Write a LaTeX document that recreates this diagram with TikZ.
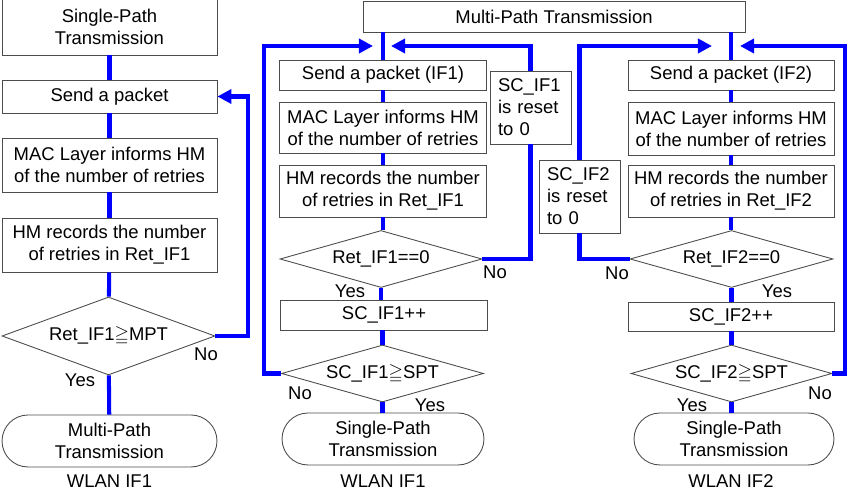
\documentclass[tikz,border=0pt]{standalone}
\usepackage{amssymb}
\usepackage{fontspec}
\setmainfont{Liberation Sans}
\usetikzlibrary{shapes.geometric,arrows.meta}

\begin{document}
\begin{tikzpicture}[x=0.02cm,y=-0.02cm,
    font=\fontsize{10.5}{12.5}\selectfont,
    box/.style={draw=black!70,line width=0.5pt,minimum width=4.14cm,inner sep=1pt,align=center},
    resetbox/.style={draw=black!70,line width=0.5pt,text width=1.3cm,inner xsep=0.16cm,minimum height=1.46cm,align=left},
    cond/.style={draw=black!70,line width=0.5pt,diamond,aspect=3.54,inner sep=0pt,minimum width=4.04cm,minimum height=1.14cm},
    term/.style={draw=black!70,line width=0.5pt,rounded corners=0.52cm,minimum width=4.04cm,minimum height=1.04cm,inner sep=1pt,align=center},
    flow/.style={blue,line width=2.3pt},
    back/.style={flow,-{Triangle[length=8pt,width=8pt]}}]
    \useasboundingbox (0,0) rectangle (850,489);

    % single interface (left)
    \node[box,minimum width=4.3cm,minimum height=1.12cm] (sp) at (109.5,27) {Single-Path\\Transmission};
    \node[box,minimum width=4.3cm,minimum height=0.66cm] (send) at (109.5,96.5) {Send a packet};
    \node[box,minimum width=4.3cm,minimum height=1.08cm] (mac) at (109.5,165) {MAC Layer informs HM\\of the number of retries};
    \node[box,minimum width=4.3cm,minimum height=1.08cm] (hm) at (109.5,245) {HM records the number\\of retries in Ret\_IF1};
    \node[cond,aspect=2.73,minimum width=4.26cm,minimum height=1.56cm] (mptchk) at (108.5,336) {Ret\_IF1$\geqq$MPT};
    \node[term,minimum width=4.3cm] (mp) at (109.5,441) {Multi-Path\\Transmission};
    \node (wlan) at (109.5,481) {WLAN IF1};
    \node (no) at (206,354) {No};
    \node (yes) at (80,380) {Yes};

    \draw[flow] (sp) -- (send);
    \draw[flow] (send) -- (mac);
    \draw[flow] (mac) -- (hm);
    \draw[flow] (hm) -- (mptchk);
    \draw[flow] (mptchk) -- (mp);
    \draw[back] (mptchk.east) -- ++(33,0) |- (send.east);

    % multi-path
    \node[box,minimum width=7.64cm,minimum height=0.62cm] (mpt) at (554,16.5) {Multi-Path Transmission};

    % WLAN IF1 (middle)
    \node[box,minimum height=0.6cm] (send1) at (383,75) {Send a packet (IF1)};
    \node[box,minimum height=1.02cm] (mac1) at (383,127.5) {MAC Layer informs HM\\of the number of retries};
    \node[box,minimum height=1.04cm] (hm1) at (383,191) {HM records the number\\of retries in Ret\_IF1};
    \node[cond] (ret1) at (381,259) {Ret\_IF1==0};
    \node[box,minimum height=0.6cm] (sc1) at (384,315) {SC\_IF1++};
    \node[cond] (spt1) at (382.5,373.5) {SC\_IF1$\geqq$SPT};
    \node[term] (spa) at (383,439) {Single-Path\\Transmission};
    \node (wlan1) at (383,481) {WLAN IF1};
    \node[resetbox] (reset1) at (530.5,107.5) {SC\_IF1\\is reset\\to 0};
    \node (no1) at (495,272) {No};
    \node (yes1) at (350,291) {Yes};
    \node (no2) at (300,393) {No};
    \node (yes2) at (430,405) {Yes};
    \coordinate (in1l) at (373,46);
    \coordinate (in1r) at (391,46);

    \draw[flow] (mpt.south -| send1.north) -- (send1);
    \draw[flow] (send1) -- (mac1);
    \draw[flow] (mac1) -- (hm1);
    \draw[flow] (hm1) -- (hm1 |- ret1.north);
    \draw[flow] (ret1.south) -- (ret1.south |- sc1.north);
    \draw[flow] (sc1.south -| spt1.north) -- (spt1);
    \draw[flow] (spt1) -- (spt1 |- spa.north);
    \draw[flow] (ret1.east) -| (reset1.south);
    \draw[back] (reset1.north) |- (in1r);
    \draw[back] (spt1.west) -- ++(-17,0) |- (in1l);

    % WLAN IF2 (right)
    \node[box,minimum width=4.12cm,minimum height=0.6cm] (send2) at (731,75) {Send a packet (IF2)};
    \node[box,minimum width=4.12cm,minimum height=1.06cm] (mac2) at (731,128.5) {MAC Layer informs HM\\of the number of retries};
    \node[box,minimum width=4.12cm,minimum height=1.04cm] (hm2) at (731,191) {HM records the number\\of retries in Ret\_IF2};
    \node[cond,minimum width=4.06cm] (ret2) at (731.5,259) {Ret\_IF2==0};
    \node[box,minimum width=4.12cm,minimum height=0.58cm] (sc2) at (731,316.5) {SC\_IF2++};
    \node[cond,minimum width=4.02cm] (spt2) at (731.5,373.5) {SC\_IF2$\geqq$SPT};
    \node[term,minimum width=4cm] (spb) at (734,439) {Single-Path\\Transmission};
    \node (wlan2) at (731,481) {WLAN IF2};
    \node[resetbox] (reset2) at (579.5,196.5) {SC\_IF2\\is reset\\to 0};
    \node (no3) at (617,273) {No};
    \node (yes3) at (777,291) {Yes};
    \node (no4) at (820,393) {No};
    \node (yes4) at (692,405) {Yes};
    \coordinate (in2l) at (712,46);
    \coordinate (in2r) at (740,46);

    \draw[flow] (mpt.south -| send2.north) -- (send2);
    \draw[flow] (send2) -- (mac2);
    \draw[flow] (mac2) -- (hm2);
    \draw[flow] (hm2) -- (hm2 |- ret2.north);
    \draw[flow] (ret2.south) -- (ret2.south |- sc2.north);
    \draw[flow] (sc2.south -| spt2.north) -- (spt2);
    \draw[flow] (spt2.south) -- (spt2.south |- spb.north);
    \draw[flow] (ret2.west) -| (reset2.south);
    \draw[back] (reset2.north) |- (in2l);
    \draw[back] (spt2.east) -- ++(13,0) |- (in2r);
\end{tikzpicture}
\end{document}
